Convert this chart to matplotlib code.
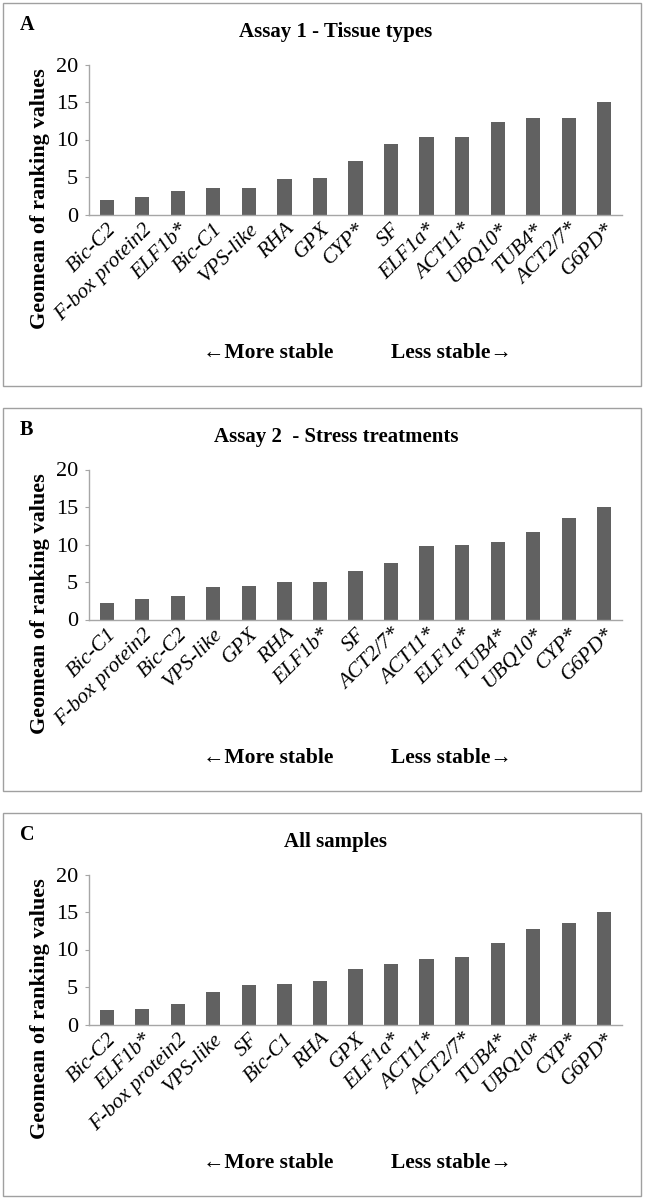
import matplotlib
matplotlib.use("Agg")
import matplotlib.pyplot as plt
from matplotlib.patches import Rectangle

plt.rcParams['font.family'] = ['Liberation Serif', 'DejaVu Serif']

# Data
genes_a = ["Bic-C2", "F-box protein2", "ELF1b*", "Bic-C1", "VPS-like", "RHA", "GPX", "CYP*",
           "SF", "ELF1a*", "ACT11*", "UBQ10*", "TUB4*", "ACT2/7*", "G6PD*"]
vals_a = [2.0, 2.3, 3.1, 3.6, 3.6, 4.7, 4.9, 7.2, 9.4, 10.4, 10.4, 12.4, 12.85, 12.9, 15.0]

genes_b = ["Bic-C1", "F-box protein2", "Bic-C2", "VPS-like", "GPX", "RHA", "ELF1b*", "SF",
           "ACT2/7*", "ACT11*", "ELF1a*", "TUB4*", "UBQ10*", "CYP*", "G6PD*"]
vals_b = [2.2, 2.8, 3.2, 4.3, 4.5, 5.0, 5.0, 6.5, 7.5, 9.8, 10.0, 10.3, 11.7, 13.5, 15.0]

genes_c = ["Bic-C2", "ELF1b*", "F-box protein2", "VPS-like", "SF", "Bic-C1", "RHA", "GPX",
           "ELF1a*", "ACT11*", "ACT2/7*", "TUB4*", "UBQ10*", "CYP*", "G6PD*"]
vals_c = [2.0, 2.05, 2.7, 4.3, 5.3, 5.4, 5.8, 7.4, 8.1, 8.7, 9.0, 10.9, 12.7, 13.5, 15.0]

panel_letters = ["A", "B", "C"]
panel_titles = ["Assay 1 - Tissue types", "Assay 2  - Stress treatments", "All samples"]
yticks = [0, 5, 10, 15, 20]

W, H = 645, 1200
fig = plt.figure(figsize=(6.45, 12), dpi=100)


def fx(x):
    return x / W


def fy(y):
    return 1 - y / H


frame_tops = [3, 408, 813]
frame_h = 383
bar_color = "#616161"
axis_color = "#a6a6a6"

panels = [(genes_a, vals_a), (genes_b, vals_b), (genes_c, vals_c)]

for i, (genes, vals) in enumerate(panels):
    top = frame_tops[i]
    # panel border
    fig.patches.append(Rectangle((fx(3), fy(top + frame_h)), fx(638), frame_h / H,
                                 transform=fig.transFigure, fill=False,
                                 edgecolor="#a0a0a0", linewidth=1.0))
    ax_top = top + 61.5
    ax_bot = top + 211.5
    ax = fig.add_axes([fx(89), fy(ax_bot), fx(622 - 89), (ax_bot - ax_top) / H])
    x = range(len(genes))
    ax.bar(x, vals, width=0.4, color=bar_color)
    ax.set_xlim(-0.5, len(genes) - 0.5)
    ax.set_ylim(0, 20)
    ax.set_yticks(yticks)
    ax.set_yticklabels([str(t) for t in yticks], fontsize=16)
    ax.set_xticks(list(x))
    ax.set_xticklabels(genes, rotation=45, ha="right", rotation_mode="anchor",
                       fontsize=15.5, style="italic")
    ax.tick_params(axis="x", length=0, pad=4)
    ax.tick_params(axis="y", length=3, pad=5, color=axis_color)
    for s in ["top", "right"]:
        ax.spines[s].set_visible(False)
    for s in ["left", "bottom"]:
        ax.spines[s].set_color(axis_color)
        ax.spines[s].set_linewidth(1.0)

    fig.text(fx(20), fy(top + 22), panel_letters[i], fontsize=14.5, fontweight="bold",
             ha="left", va="center")
    fig.text(fx(336), fy(top + 29), panel_titles[i], fontsize=15, fontweight="bold",
             ha="center", va="center")
    fig.text(fx(40), fy(top + 196), "Geomean of ranking values", fontsize=16,
             fontweight="bold", rotation=90, ha="center", va="center")
    fig.text(fx(268), fy(top + 350), "\u2190More stable", fontsize=15.5,
             fontweight="bold", ha="center", va="center")
    fig.text(fx(451), fy(top + 350), "Less stable\u2192", fontsize=15.5,
             fontweight="bold", ha="center", va="center")

fig.savefig("out.png", dpi=100, facecolor="white")
